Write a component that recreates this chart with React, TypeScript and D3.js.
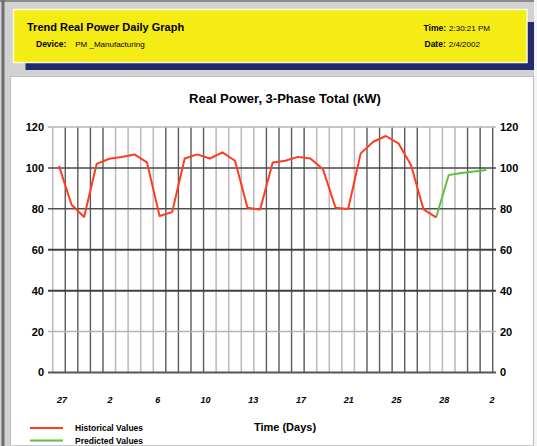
import React from 'react';
import * as d3 from 'd3';

// values (kW, one per day)
const historical = [101, 82, 76, 102, 104.5, 105.3, 106.6, 102.7, 76.5, 78.4, 104.6, 106.6, 104.6, 107.6, 103.5,
  80.5, 79.7, 102.7, 103.5, 105.4, 104.6, 99.3, 80.5, 79.9, 107.1, 112.8, 115.6, 112, 101.4, 79.7, 75.8];
const predicted = [96.5, 97.5, 98.2, 99];
const dayLabels = ['27', '2', '6', '10', '13', '17', '21', '25', '28', '2'];
const yTicks = [0, 20, 40, 60, 80, 100, 120];
const dayCount = 35;
const lightDays = [0, 5, 6, 7, 8, 13, 14, 15, 16, 21, 22, 23, 24, 30, 31, 32];

const W = 537;
const H = 446;
const font = 'Arial, "Liberation Sans", sans-serif';

const hStyle: Record<number, [string, number]> = {
  0: ['#555', 2],
  20: ['#b4b4b4', 1.5],
  40: ['#404040', 2],
  60: ['#404040', 2],
  80: ['#505050', 1.5],
  100: ['#484848', 1.5],
  120: ['#b4b4b4', 1.5],
};

export default function App() {
  const x = d3.scaleLinear().domain([0, dayCount]).range([52.7, 492.7]);
  const y = d3.scaleLinear().domain([0, 120]).range([372.5, 127]);
  const xl = d3.scalePoint<string>().domain(d3.range(dayLabels.length).map(String)).range([x(0.75), x(34.95)]);

  const line = d3.line<[number, number]>().x(d => x(d[0] + 0.5)).y(d => y(d[1]));
  const histPts: [number, number][] = historical.map((v, i) => [i, v]);
  const last = historical.length - 1;
  const predPts: [number, number][] = [[last, historical[last]], ...predicted.map((v, i) => [last + 1 + i, v] as [number, number])];

  return (
    <svg width={W} height={H} style={{ position: 'absolute', left: 0, top: 0 }} fontFamily={font}>
      <rect width={W} height={H} fill="#d2d2d2" />
      <line x1={0} x2={W} y1={1} y2={1} stroke="#8a8a8a" strokeWidth={2} />
      <line x1={3} x2={3} y1={0} y2={H} stroke="#6e6e6e" strokeWidth={3} />
      <rect x={534} y={0} width={3} height={H} fill="#f4f4f4" />

      {/* header */}
      <rect x={25.5} y={22} width={508.5} height={48} fill="#232a72" />
      <rect x={13.5} y={9.5} width={513.5} height={53} fill="#f6ec15" stroke="#fdfbd0" strokeWidth={1.5} />
      <text x={27} y={31} fontSize={11} fontWeight="bold">Trend Real Power Daily Graph</text>
      <text x={36} y={46.5} fontSize={8.5} fontWeight="bold">Device:<tspan dx={9} fontWeight="normal" fontSize={8}>PM _Manufacturing</tspan></text>
      <text x={423.5} y={30.5} fontSize={8.5} fontWeight="bold">Time:<tspan dx={3} fontWeight="normal" fontSize={8}>2:30:21 PM</tspan></text>
      <text x={424.5} y={46.5} fontSize={8.5} fontWeight="bold">Date:<tspan dx={3} fontWeight="normal" fontSize={8}>2/4/2002</tspan></text>

      {/* chart panel */}
      <rect x={10.5} y={76.5} width={523} height={372} fill="#fff" stroke="#bdbdbd" />
      <text x={285} y={103} textAnchor="middle" fontSize={13} fontWeight="bold">Real Power, 3-Phase Total (kW)</text>

      {d3.range(dayCount + 1).map(k => {
        const light = lightDays.includes(k);
        return (
          <line key={'v' + k} x1={x(k)} x2={x(k)} y1={y(120)} y2={y(0)}
            stroke={light ? '#bdbdbd' : '#5a5a5a'} strokeWidth={light ? 1.6 : 1.4} />
        );
      })}
      {yTicks.map(t => (
        <line key={'h' + t} x1={48} x2={496} y1={y(t)} y2={y(t)} stroke={hStyle[t][0]} strokeWidth={hStyle[t][1]} />
      ))}
      {yTicks.map(t => (
        <g key={'yl' + t} fontSize={11} fontWeight="bold">
          <text x={44} y={y(t)} dy="0.36em" textAnchor="end">{t}</text>
          <text x={500} y={y(t)} dy="0.36em">{t}</text>
        </g>
      ))}

      <path d={line(predPts) || ''} fill="none" stroke="#5cc23c" strokeWidth={2} />
      <path d={line(histPts) || ''} fill="none" stroke="#ff3d1e" strokeWidth={2} strokeLinejoin="round" />

      {dayLabels.map((l, i) => (
        <text key={'xl' + i} x={xl(String(i))} y={400} dy="0.36em" textAnchor="middle" fontSize={9}
          fontWeight="bold" fontStyle="italic">{l}</text>
      ))}
      <text x={285} y={427} dy="0.36em" textAnchor="middle" fontSize={11} fontWeight="bold">Time (Days)</text>

      {/* legend */}
      <line x1={30} x2={63} y1={428} y2={428} stroke="#ff3d1e" strokeWidth={2} />
      <line x1={30} x2={63} y1={440.5} y2={440.5} stroke="#5cc23c" strokeWidth={2} />
      <text x={75} y={428} dy="0.36em" fontSize={8.5} fontWeight="bold">Historical Values</text>
      <text x={75} y={440.5} dy="0.36em" fontSize={8.5} fontWeight="bold">Predicted Values</text>
      <rect x={10} y={445} width={524} height={1} fill="#c8c8c8" />
    </svg>
  );
}
